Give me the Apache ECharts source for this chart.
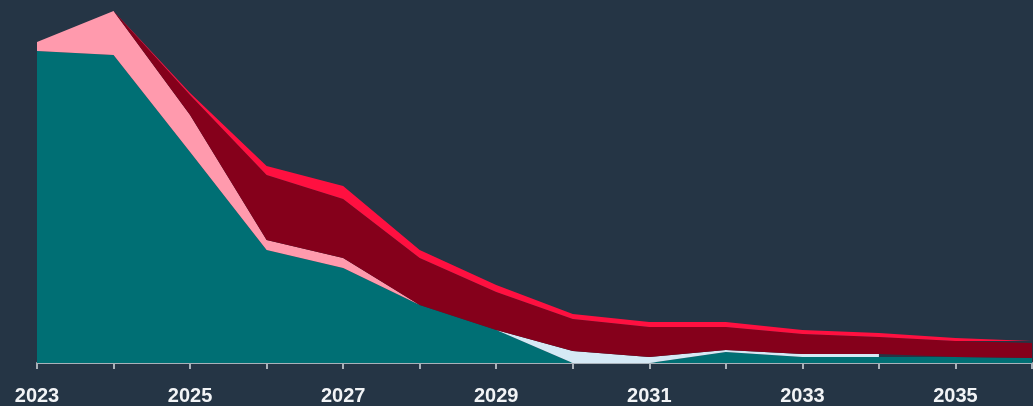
<!DOCTYPE html>
<html>
<head>
<meta charset="utf-8">
<script src="https://cdn.jsdelivr.net/npm/echarts@6/dist/echarts.min.js"></script>
<style>
html,body{margin:0;padding:0;background:#253545;}
#chart{width:1033px;height:406px;}
</style>
</head>
<body>
<div id="chart"></div>
<script>
const years = ['2023','2024','2025','2026','2027','2028','2029','2030','2031','2032','2033','2034','2035','2036'];
const tealSeries   = [312, 308, 211, 113, 95, 58, 33, 0, 0, 11, 6, 6, 6, 5];
const lightBlue    = [null, null, null, null, null, null, 0, 12, 6, 2, 3, 3, null, null];
const pinkSeries   = [9, 44, 37, 10, 10, 0, 0, 0, 0, 0, 0, 0, 0, 0];
const darkRed      = [0, 0, 20, 65, 59, 47, 38, 32, 30, 23, 20, 17, 16, 15];
const brightRed    = [0, 0, 2, 9, 13, 8, 7, 5, 5, 5, 4, 4, 3, 2];

const chart = echarts.init(document.getElementById('chart'));
function areaSeries(name, data, color){
  return {
    name: name, type: 'line', stack: 'total', data: data,
    symbol: 'none', smooth: false, connectNulls: false,
    lineStyle: {width: 0, color: color},
    areaStyle: {color: color, opacity: 1},
    itemStyle: {color: color},
    emphasis: {disabled: true},
    animation: false
  };
}
chart.setOption({
  backgroundColor: '#253545',
  animation: false,
  grid: {left: 37, right: 1, top: 3, bottom: 43, containLabel: false},
  xAxis: {
    type: 'category', data: years, boundaryGap: false,
    axisLine: {show: true, lineStyle: {color: '#a9b1b9', width: 2}},
    axisTick: {show: true, interval: 0, length: 6, lineStyle: {color: '#a9b1b9', width: 2}},
    axisLabel: {interval: 1, color: '#f2f4f6', fontWeight: 'bold', fontSize: 20,
      fontFamily: 'Liberation Sans', margin: 23},
    splitLine: {show: false}
  },
  yAxis: {
    type: 'value', min: 0, max: 360, show: false, splitLine: {show: false}
  },
  series: [
    areaSeries('Teal', tealSeries, '#006f74'),
    areaSeries('Light blue', lightBlue, '#d5e9f5'),
    areaSeries('Pink', pinkSeries, '#ff9aad'),
    areaSeries('Dark red', darkRed, '#85001b'),
    areaSeries('Bright red', brightRed, '#ff1040')
  ]
});
</script>
</body>
</html>
